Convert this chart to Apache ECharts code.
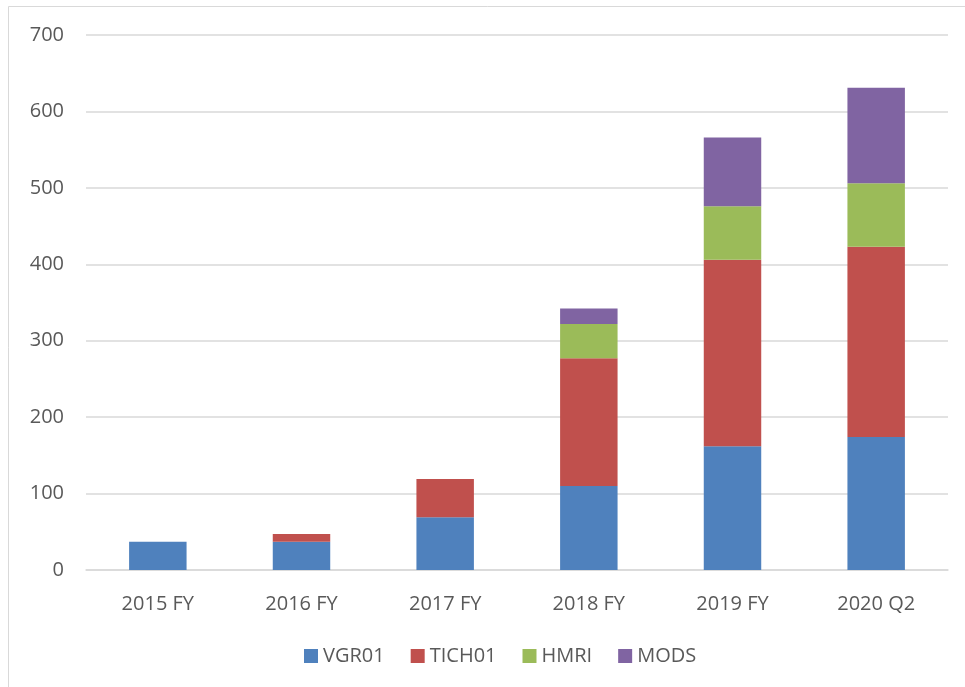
<!DOCTYPE html>
<html>
<head>
<meta charset="utf-8">
<script src="https://cdn.jsdelivr.net/npm/echarts@6/dist/echarts.min.js"></script>
<style>
html,body{margin:0;padding:0;background:#fff;}
#c{width:965px;height:687px;}
</style>
</head>
<body>
<div id="c"></div>
<script>
var categories = ['2015 FY', '2016 FY', '2017 FY', '2018 FY', '2019 FY', '2020 Q2'];
var vgr01 = [37, 37, 69, 110, 162, 174];
var tich01 = [0, 10, 50, 167, 244, 249];
var hmri = [0, 0, 0, 45, 70, 83];
var mods = [0, 0, 0, 20, 90, 125];
var yTicks = [0, 100, 200, 300, 400, 500, 600, 700];

var font = 'Open Sans';
var chart = echarts.init(document.getElementById('c'), null, {renderer: 'canvas'});
function s(name, data, color) {
  return {
    name: name, type: 'bar', stack: 'total', data: data,
    barWidth: '40%',
    itemStyle: {color: color},
    emphasis: {disabled: true}
  };
}
chart.setOption({
  animation: false,
  backgroundColor: '#fff',
  textStyle: {fontFamily: font},
  grid: {left: 86, right: 17, top: 35, bottom: 117, containLabel: false},
  graphic: [{
    type: 'polyline', silent: true,
    shape: {points: [[8.5, 700], [8.5, 6.5], [970, 6.5]]},
    style: {stroke: '#d9d9d9', lineWidth: 1, fill: null}
  }],
  legend: {
    top: 641, left: 299,
    itemWidth: 14, itemHeight: 14, itemGap: 26,
    icon: 'rect',
    textStyle: {color: '#595959', fontSize: 20, fontFamily: font},
    data: ['VGR01', 'TICH01', 'HMRI', 'MODS']
  },
  xAxis: {
    type: 'category', data: categories,
    axisLine: {show: true, lineStyle: {color: '#d9d9d9', width: 1.5}},
    axisTick: {show: false},
    axisLabel: {color: '#595959', fontSize: 20, margin: 24, fontFamily: font}
  },
  yAxis: {
    type: 'value', min: yTicks[0], max: yTicks[yTicks.length - 1], interval: 100,
    axisLine: {show: false}, axisTick: {show: false},
    splitLine: {lineStyle: {color: '#d9d9d9', width: 1.5}},
    axisLabel: {color: '#595959', fontSize: 20, margin: 22, fontFamily: font}
  },
  series: [
    s('VGR01', vgr01, '#4f81bd'),
    s('TICH01', tich01, '#c0504d'),
    s('HMRI', hmri, '#9bbb59'),
    s('MODS', mods, '#8064a2')
  ]
});
</script>
</body>
</html>
